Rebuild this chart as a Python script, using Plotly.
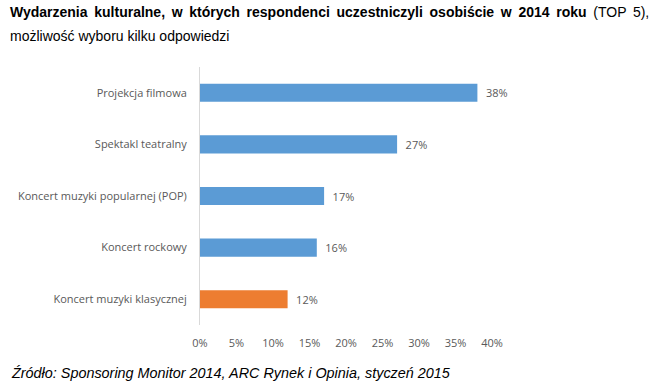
import plotly.graph_objects as go

categories = ["Projekcja filmowa", "Spektakl teatralny", "Koncert muzyki popularnej (POP)",
              "Koncert rockowy", "Koncert muzyki klasycznej"]
values = [38, 27, 17, 16, 12]
colors = ["#5B9BD5", "#5B9BD5", "#5B9BD5", "#5B9BD5", "#ED7D31"]
tick_vals = [0, 5, 10, 15, 20, 25, 30, 35, 40]
tick_text = [f"{v}%" for v in tick_vals]
title_bold = "Wydarzenia kulturalne, w których respondenci uczestniczyli osobiście w 2014 roku"
title_rest = "(TOP 5),"
subtitle = "możliwość wyboru kilku odpowiedzi"
source = "Źródło: Sponsoring Monitor 2014, ARC Rynek i Opinia, styczeń 2015"

fig = go.Figure(go.Bar(
    x=values, y=categories, orientation="h",
    marker=dict(color=colors, line=dict(width=0)),
    width=0.35,
    text=[f"\u2002{v}%" for v in values], textposition="outside",
    textfont=dict(family="Open Sans", size=11, color="#595959"),
    cliponaxis=False,
))

PW, PH = 292, 258
wide = " \u2009"  # emulate justified spacing of the first title line

fig.update_layout(
    width=655, height=387,
    margin=dict(l=200, r=163, t=67, b=62),
    paper_bgcolor="white", plot_bgcolor="white",
    showlegend=False,
    xaxis=dict(range=[0, 40], tickvals=tick_vals, ticktext=tick_text,
               showgrid=False, zeroline=False, showline=False,
               tickfont=dict(family="Open Sans", size=11, color="#595959"),
               ticks="", ticklabelstandoff=10, fixedrange=True),
    yaxis=dict(categoryorder="array", categoryarray=categories[::-1],
               showgrid=False, zeroline=False, showline=True, linecolor="#D9D9D9",
               linewidth=1, ticks="", ticklabelstandoff=10, fixedrange=True,
               tickfont=dict(family="Open Sans", size=11, color="#595959")),
    annotations=[
        dict(text="<b>" + title_bold.replace(" ", wide) + "</b>" + wide + title_rest.replace(" ", wide),
             xref="paper", yref="paper", x=-192 / PW, y=1 + 55 / PH, xanchor="left", yanchor="middle",
             showarrow=False, font=dict(family="Liberation Sans", size=14, color="#000000")),
        dict(text=subtitle,
             xref="paper", yref="paper", x=-192 / PW, y=1 + 31 / PH, xanchor="left", yanchor="middle",
             showarrow=False, font=dict(family="Liberation Sans", size=14, color="#000000")),
        dict(text="<i>" + source + "</i>",
             xref="paper", yref="paper", x=-191 / PW, y=1 - 306 / PH, xanchor="left", yanchor="middle",
             showarrow=False, font=dict(family="Liberation Sans", size=14.4, color="#000000")),
    ],
)
fig.write_html("out.html", config={"displayModeBar": False},
               post_script="document.body.style.margin='0';document.body.style.overflow='hidden';")
